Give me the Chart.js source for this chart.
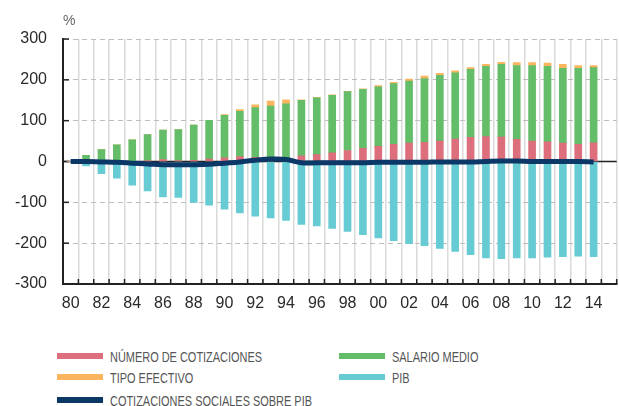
<!DOCTYPE html>
<html>
<head>
<meta charset="utf-8">
<script src="https://cdn.jsdelivr.net/npm/chart.js@4/dist/chart.umd.min.js"></script>
<style>
  body { margin: 0; background: #fff; }
  #wrap { position: relative; width: 619px; height: 406px; overflow: hidden; }
  #chartBox { position: absolute; left: 0; top: 0; width: 619px; height: 320px; }
  #unit { position: absolute; left: 63px; top: 12px; font: 14px 'Liberation Sans', Arial, sans-serif; color: #666; }
  .item { position: absolute; height: 20px; display: flex; align-items: center; }
  .item .sw { width: 46px; height: 6px; margin-right: 7px; flex: none; }
  .item .tx { display: inline-block; font: 15px 'Liberation Sans', Arial, sans-serif; color: #555; white-space: nowrap;
              transform: scaleX(0.73); transform-origin: left center; }
</style>
</head>
<body>
<div id="wrap">
  <div id="chartBox"><canvas id="chart"></canvas></div>
  <div id="unit">%</div>
  <div id="legend"></div>
</div>
<script>
// Categories (years) - trailing empty slot as in the original layout
const years = ['80','81','82','83','84','85','86','87','88','89','90','91','92','93','94','95','96','97',
  '98','99','00','01','02','03','04','05','06','07','08','09','10','11','12','13','14',''];

const numeroCotizaciones = [0,0,0,0,0,2,5,2,3,6,9,12,10,6,5,14,17,21,27,32,37,42,45,47,50,55,59,61,60,54,50,48,45,42,46];
const salarioMedio = [0,15,29,41,53,64,72,76,86,95,104,111,122,130,136,136,139,141,144,145,146,149,152,156,161,162,167,172,178,181,185,185,183,186,184];
const tipoEfectivo = [0,0,0,0,0,0,0,0,0,0,2,4,7,12,10,1,1,1,1,1,3,3,5,6,5,5,4,5,5,7,7,8,10,7,5];
const pib = [0,-11,-30,-41,-58,-72,-87,-88,-100,-107,-117,-126,-134,-138,-144,-154,-158,-164,-171,-179,-187,-194,-201,-206,-213,-220,-228,-236,-238,-236,-236,-234,-233,-232,-233];
const cotizacionesPib = [0,0,-1,-2,-4,-6,-8,-8,-8,-7,-4,-1,3,6,5,-3,-3,-3,-3,-3,-2,-2,-2,-2,-1,-1,-1,0,1,1,0,0,0,0,-1];

const yTicks = [-300,-200,-100,0,100,200,300];

const colors = {
    red: '#dc6f7b',
    green: '#64bd69',
    orange: '#fbb55e',
    cyan: '#67cbd3',
    navy: '#0c3868'
};

const FONT = "'Liberation Sans', Arial, sans-serif";

// black zero line + small inner tick marks
const axisExtras = {
    id: 'axisExtras',
    beforeDatasetsDraw(chart) {
        const {ctx, scales: {x, y}} = chart;
        ctx.save();
        ctx.strokeStyle = '#222';
        ctx.lineWidth = 1.5;
        ctx.beginPath();
        ctx.moveTo(x.left, y.getPixelForValue(0));
        ctx.lineTo(x.right, y.getPixelForValue(0));
        ctx.stroke();
        // ticks on x axis (between categories), pointing up
        const step = x.width / years.length;
        for (let i = 1; i <= years.length; i++) {
            const px = x.left + i * step;
            ctx.beginPath();
            ctx.moveTo(px, y.bottom);
            ctx.lineTo(px, y.bottom - 5);
            ctx.stroke();
        }
        // ticks on y axis, pointing right
        yTicks.forEach(v => {
            const py = y.getPixelForValue(v);
            ctx.beginPath();
            ctx.moveTo(x.left, py);
            ctx.lineTo(x.left + 6, py);
            ctx.stroke();
        });
        ctx.restore();
    }
};

function barSet(label, data, color) {
    return {
        type: 'bar',
        label: label,
        data: data,
        backgroundColor: color,
        barThickness: 7,
        stack: 'bars',
        order: 1
    };
}

new Chart(document.getElementById('chart'), {
    data: {
        labels: years,
        datasets: [
            {
                type: 'line',
                label: 'COTIZACIONES SOCIALES SOBRE PIB',
                data: cotizacionesPib,
                borderColor: colors.navy,
                borderWidth: 5,
                pointRadius: 0,
                tension: 0.4,
                stack: 'line',
                order: 0
            },
            barSet('NÚMERO DE COTIZACIONES', numeroCotizaciones, colors.red),
            barSet('SALARIO MEDIO', salarioMedio, colors.green),
            barSet('TIPO EFECTIVO', tipoEfectivo, colors.orange),
            barSet('PIB', pib, colors.cyan)
        ]
    },
    options: {
        responsive: true,
        maintainAspectRatio: false,
        animation: false,
        layout: { padding: { top: 39, right: 0, bottom: 0, left: 0 } },
        plugins: {
            legend: { display: false },
            tooltip: { enabled: false }
        },
        scales: {
            x: {
                stacked: true,
                afterFit: s => { s.height = 36; },
                grid: { offset: true, color: '#dadada', lineWidth: 1.5, drawTicks: false },
                border: { display: true, color: '#222', width: 2 },
                ticks: {
                    autoSkip: false,
                    maxRotation: 0,
                    padding: 10,
                    color: '#2a2a2a',
                    font: { family: FONT, size: 16 },
                    callback: function(val, i) { return i % 2 === 0 ? years[i] : ''; }
                }
            },
            y: {
                stacked: true,
                min: -300,
                max: 300,
                afterFit: s => { s.width = 63; },
                afterBuildTicks: s => { s.ticks = yTicks.map(v => ({ value: v })); },
                grid: {
                    drawTicks: false,
                    lineWidth: 1,
                    color: c => (c.tick && c.tick.value === 0) ? 'rgba(0,0,0,0)' : '#bdbdbd'
                },
                border: {
                    display: true,
                    color: '#222',
                    width: 2,
                    dash: c => (c.tick && c.tick.value !== 0) ? [5, 4] : []
                },
                ticks: {
                    padding: 16,
                    color: '#2a2a2a',
                    font: { family: FONT, size: 16 }
                }
            }
        }
    },
    plugins: [axisExtras]
});

// legend (two columns as in the original)
const legendItems = [
    { label: 'NÚMERO DE COTIZACIONES', color: colors.red, x: 57, y: 346 },
    { label: 'SALARIO MEDIO', color: colors.green, x: 339, y: 346 },
    { label: 'TIPO EFECTIVO', color: colors.orange, x: 57, y: 367 },
    { label: 'PIB', color: colors.cyan, x: 339, y: 367 },
    { label: 'COTIZACIONES SOCIALES SOBRE PIB', color: colors.navy, x: 57, y: 390 }
];
const legendEl = document.getElementById('legend');
legendItems.forEach(it => {
    const d = document.createElement('div');
    d.className = 'item';
    d.style.left = it.x + 'px';
    d.style.top = it.y + 'px';
    d.innerHTML = '<span class="sw" style="background:' + it.color + '"></span><span class="tx">' + it.label + '</span>';
    legendEl.appendChild(d);
});
</script>
</body>
</html>
